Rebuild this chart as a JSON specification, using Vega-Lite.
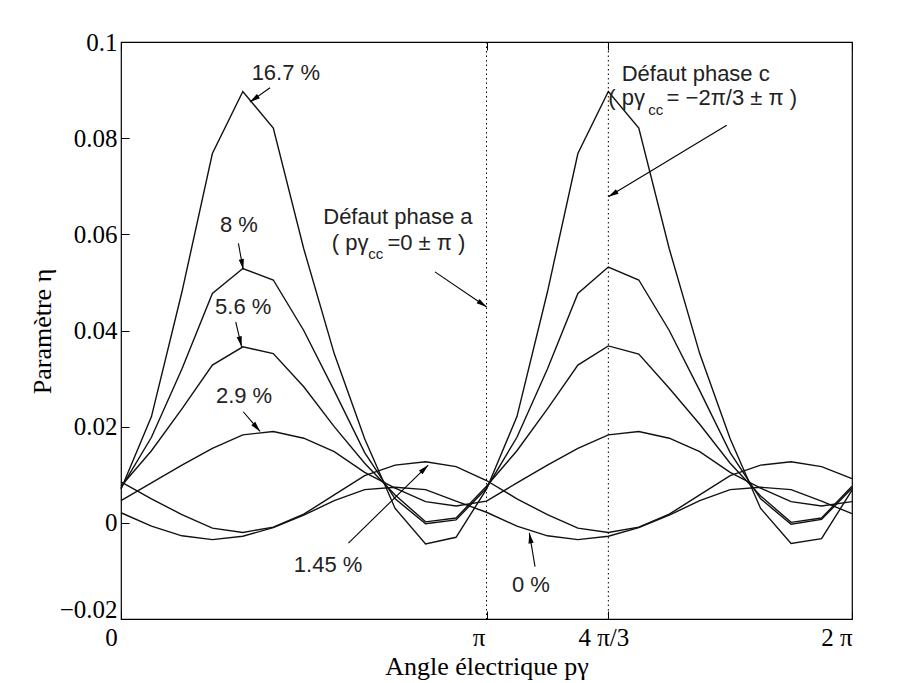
{
  "$schema": "https://vega.github.io/schema/vega-lite/v6.json",
  "width": 731,
  "height": 577,
  "autosize": {"type": "none"},
  "padding": {"left": 121, "top": 42, "right": 51, "bottom": 64},
  "background": "white",
  "config": {
    "view": {"stroke": "black", "strokeWidth": 1.2},
    "axis": {"grid": false, "domain": false, "tickColor": "black", "labelColor": "black", "titleColor": "black"}
  },
  "resolve": {"axis": {"x": "independent", "y": "independent"}},
  "layer": [
    {
      "data": {"values": [
        {"a": 0, "p167": 0.0070, "p8": 0.0072, "p56": 0.0076, "p29": 0.0046, "p145": 0.0085, "p0": 0.0021},
        {"a": 15, "p167": 0.0221, "p8": 0.0178, "p56": 0.0150, "p29": 0.0083, "p145": 0.0050, "p0": -0.0007},
        {"a": 30, "p167": 0.0480, "p8": 0.0320, "p56": 0.0237, "p29": 0.0120, "p145": 0.0017, "p0": -0.0027},
        {"a": 45, "p167": 0.0768, "p8": 0.0477, "p56": 0.0328, "p29": 0.0155, "p145": -0.0011, "p0": -0.0035},
        {"a": 60, "p167": 0.0897, "p8": 0.0529, "p56": 0.0366, "p29": 0.0183, "p145": -0.0020, "p0": -0.0028},
        {"a": 75, "p167": 0.0821, "p8": 0.0505, "p56": 0.0352, "p29": 0.0190, "p145": -0.0009, "p0": -0.0010},
        {"a": 90, "p167": 0.0570, "p8": 0.0400, "p56": 0.0283, "p29": 0.0176, "p145": 0.0018, "p0": 0.0016},
        {"a": 105, "p167": 0.0352, "p8": 0.0275, "p56": 0.0200, "p29": 0.0148, "p145": 0.0058, "p0": 0.0046},
        {"a": 120, "p167": 0.0175, "p8": 0.0146, "p56": 0.0124, "p29": 0.0105, "p145": 0.0098, "p0": 0.0069},
        {"a": 135, "p167": 0.0030, "p8": 0.0050, "p56": 0.0058, "p29": 0.0072, "p145": 0.0120, "p0": 0.0074},
        {"a": 150, "p167": -0.0044, "p8": -0.0002, "p56": 0.0002, "p29": 0.0044, "p145": 0.0127, "p0": 0.0069},
        {"a": 165, "p167": -0.0030, "p8": 0.0006, "p56": 0.0010, "p29": 0.0035, "p145": 0.0117, "p0": 0.0045},
        {"a": 180, "p167": 0.0070, "p8": 0.0072, "p56": 0.0076, "p29": 0.0045, "p145": 0.0088, "p0": 0.0022},
        {"a": 195, "p167": 0.0221, "p8": 0.0178, "p56": 0.0150, "p29": 0.0083, "p145": 0.0050, "p0": -0.0007},
        {"a": 210, "p167": 0.0480, "p8": 0.0320, "p56": 0.0237, "p29": 0.0120, "p145": 0.0017, "p0": -0.0027},
        {"a": 225, "p167": 0.0768, "p8": 0.0477, "p56": 0.0328, "p29": 0.0155, "p145": -0.0011, "p0": -0.0035},
        {"a": 240, "p167": 0.0897, "p8": 0.0532, "p56": 0.0368, "p29": 0.0183, "p145": -0.0020, "p0": -0.0028},
        {"a": 255, "p167": 0.0821, "p8": 0.0505, "p56": 0.0351, "p29": 0.0190, "p145": -0.0009, "p0": -0.0010},
        {"a": 270, "p167": 0.0570, "p8": 0.0400, "p56": 0.0280, "p29": 0.0176, "p145": 0.0018, "p0": 0.0016},
        {"a": 285, "p167": 0.0352, "p8": 0.0275, "p56": 0.0205, "p29": 0.0148, "p145": 0.0058, "p0": 0.0046},
        {"a": 300, "p167": 0.0175, "p8": 0.0146, "p56": 0.0124, "p29": 0.0105, "p145": 0.0098, "p0": 0.0069},
        {"a": 315, "p167": 0.0030, "p8": 0.0050, "p56": 0.0056, "p29": 0.0072, "p145": 0.0120, "p0": 0.0074},
        {"a": 330, "p167": -0.0043, "p8": -0.0003, "p56": 0.0001, "p29": 0.0044, "p145": 0.0127, "p0": 0.0069},
        {"a": 345, "p167": -0.0033, "p8": 0.0007, "p56": 0.0010, "p29": 0.0035, "p145": 0.0117, "p0": 0.0045},
        {"a": 360, "p167": 0.0068, "p8": 0.0072, "p56": 0.0076, "p29": 0.0044, "p145": 0.0092, "p0": 0.0019}
      ]},
      "transform": [{"fold": ["p167", "p8", "p56", "p29", "p145", "p0"], "as": ["serie", "v"]}],
      "mark": {"type": "line", "color": "#111111", "strokeWidth": 1.4},
      "encoding": {
        "x": {
          "field": "a", "type": "quantitative",
          "scale": {"domain": [0, 360], "nice": false, "zero": false},
          "axis": {
            "orient": "bottom",
            "values": [0, 180, 240, 360],
            "labelExpr": "datum.value == 0 ? '0' : datum.value == 180 ? 'π' : datum.value == 240 ? '4 π/3' : '2 π'",
            "tickSize": -8,
            "labelPadding": 14,
            "labelFlush": false,
            "labelOverlap": false,
            "labelBound": false,
            "labelFont": "Liberation Serif",
            "labelFontSize": 25,
            "labelAlign": {"condition": {"test": "datum.value == 360", "value": "right"}, "value": "center"},
            "labelOffset": {"condition": [{"test": "datum.value == 0", "value": -10}, {"test": "datum.value == 180", "value": -8}, {"test": "datum.value == 240", "value": -5}], "value": 0},
            "title": "Angle électrique pγ",
            "titleFont": "Liberation Serif",
            "titleFontSize": 26,
            "titleFontWeight": "normal",
            "titleY": 47,
            "titleBaseline": "middle"
          }
        },
        "y": {
          "field": "v", "type": "quantitative",
          "scale": {"domain": [-0.02, 0.1], "nice": false, "zero": false},
          "axis": {
            "orient": "left",
            "values": [-0.02, 0, 0.02, 0.04, 0.06, 0.08, 0.1],
            "labelExpr": "datum.value == 0 ? '0' : replace(format(datum.value, '.2~f'), '-', '−')",
            "tickSize": -8,
            "labelPadding": 12,
            "labelFlush": false,
            "labelOverlap": false,
            "labelBound": false,
            "labelFont": "Liberation Serif",
            "labelFontSize": 25,
            "labelOffset": {"condition": {"test": "datum.value < -0.01", "value": -10}, "value": 0},
            "title": "Paramètre η",
            "titleFont": "Liberation Serif",
            "titleFontSize": 26,
            "titleFontWeight": "normal",
            "titleX": -79,
            "titleY": 289,
            "titleAngle": -90,
            "titleAlign": "center",
            "titleBaseline": "middle"
          }
        },
        "detail": {"field": "serie", "type": "nominal"}
      }
    },
    {
      "data": {"values": [{"a": 180}, {"a": 240}]},
      "mark": {"type": "rule", "color": "black", "strokeWidth": 1, "strokeDash": [1.5, 3]},
      "encoding": {
        "x": {
          "field": "a", "type": "quantitative",
          "scale": {"domain": [0, 360], "nice": false, "zero": false},
          "axis": {"orient": "top", "values": [0, 180, 240, 360], "labels": false, "tickSize": -8, "title": null}
        }
      }
    },
    {
      "data": {"values": [
        {"x1": 73.4, "y1": 0.0905, "x2": 63.5, "y2": 0.0875},
        {"x1": 57.8, "y1": 0.0581, "x2": 60.2, "y2": 0.0527},
        {"x1": 56.5, "y1": 0.0418, "x2": 59.4, "y2": 0.0366},
        {"x1": 60.2, "y1": 0.0231, "x2": 68.5, "y2": 0.0190},
        {"x1": 112.0, "y1": -0.0042, "x2": 151.3, "y2": 0.0120},
        {"x1": 203.9, "y1": -0.0091, "x2": 201.1, "y2": -0.0021},
        {"x1": 154.6, "y1": 0.0522, "x2": 180.1, "y2": 0.0449},
        {"x1": 298.3, "y1": 0.0827, "x2": 240.0, "y2": 0.0678}
      ]},
      "layer": [
        {
          "mark": {"type": "rule", "color": "black", "strokeWidth": 1.1},
          "encoding": {
            "x": {"field": "x1", "type": "quantitative", "scale": {"domain": [0, 360], "nice": false, "zero": false}, "axis": null},
            "y": {
              "field": "y1", "type": "quantitative",
              "scale": {"domain": [-0.02, 0.1], "nice": false, "zero": false},
              "axis": {"orient": "right", "values": [-0.02, 0, 0.02, 0.04, 0.06, 0.08, 0.1], "labels": false, "tickSize": -8, "title": null}
            },
            "x2": {"field": "x2"},
            "y2": {"field": "y2"}
          }
        },
        {
          "mark": {
            "type": "point", "filled": true, "color": "black", "opacity": 1, "strokeWidth": 0, "size": 90,
            "shape": "M0,0L-0.55,2.2L0.55,2.2Z",
            "angle": {"expr": "atan2(scale('x', datum.x2) - scale('x', datum.x1), scale('y', datum.y1) - scale('y', datum.y2)) * 180 / PI"}
          },
          "encoding": {
            "x": {"field": "x2", "type": "quantitative", "scale": {"domain": [0, 360], "nice": false, "zero": false}, "axis": null},
            "y": {"field": "y2", "type": "quantitative", "scale": {"domain": [-0.02, 0.1], "nice": false, "zero": false}, "axis": null}
          }
        }
      ]
    },
    {
      "data": {"values": [
        {"x": 81.2, "y": 0.0936, "t": "16.7 %"},
        {"x": 58.1, "y": 0.0619, "t": "8 %"},
        {"x": 60.2, "y": 0.0449, "t": "5.6 %"},
        {"x": 60.6, "y": 0.0264, "t": "2.9 %"},
        {"x": 102.0, "y": -0.0087, "t": "1.45 %"},
        {"x": 201.9, "y": -0.0129, "t": "0 %"}
      ]},
      "mark": {"type": "text", "font": "Liberation Sans", "fontSize": 22, "color": "#222222", "align": "center", "baseline": "middle"},
      "encoding": {
        "x": {"field": "x", "type": "quantitative", "scale": {"domain": [0, 360], "nice": false, "zero": false}, "axis": null},
        "y": {"field": "y", "type": "quantitative", "scale": {"domain": [-0.02, 0.1], "nice": false, "zero": false}, "axis": null},
        "text": {"field": "t"}
      }
    },
    {
      "data": {"values": [
        {"x": 99.6, "y": 0.0636, "t": "Défaut phase a"},
        {"x": 103.8, "y": 0.0582, "t": "( pγ"},
        {"x": 131.2, "y": 0.0582, "t": "=0 ± π )"},
        {"x": 246.6, "y": 0.0934, "t": "Défaut phase c"},
        {"x": 240.0, "y": 0.0883, "t": "( pγ"},
        {"x": 268.7, "y": 0.0883, "t": "= −2π/3 ± π )"}
      ]},
      "mark": {"type": "text", "font": "Liberation Sans", "fontSize": 22, "color": "#222222", "align": "left", "baseline": "middle"},
      "encoding": {
        "x": {"field": "x", "type": "quantitative", "scale": {"domain": [0, 360], "nice": false, "zero": false}, "axis": null},
        "y": {"field": "y", "type": "quantitative", "scale": {"domain": [-0.02, 0.1], "nice": false, "zero": false}, "axis": null},
        "text": {"field": "t"}
      }
    },
    {
      "data": {"values": [
        {"x": 121.8, "y": 0.0559, "t": "cc"},
        {"x": 259.6, "y": 0.0858, "t": "cc"}
      ]},
      "mark": {"type": "text", "font": "Liberation Sans", "fontSize": 15, "color": "#222222", "align": "left", "baseline": "middle"},
      "encoding": {
        "x": {"field": "x", "type": "quantitative", "scale": {"domain": [0, 360], "nice": false, "zero": false}, "axis": null},
        "y": {"field": "y", "type": "quantitative", "scale": {"domain": [-0.02, 0.1], "nice": false, "zero": false}, "axis": null},
        "text": {"field": "t"}
      }
    }
  ]
}
